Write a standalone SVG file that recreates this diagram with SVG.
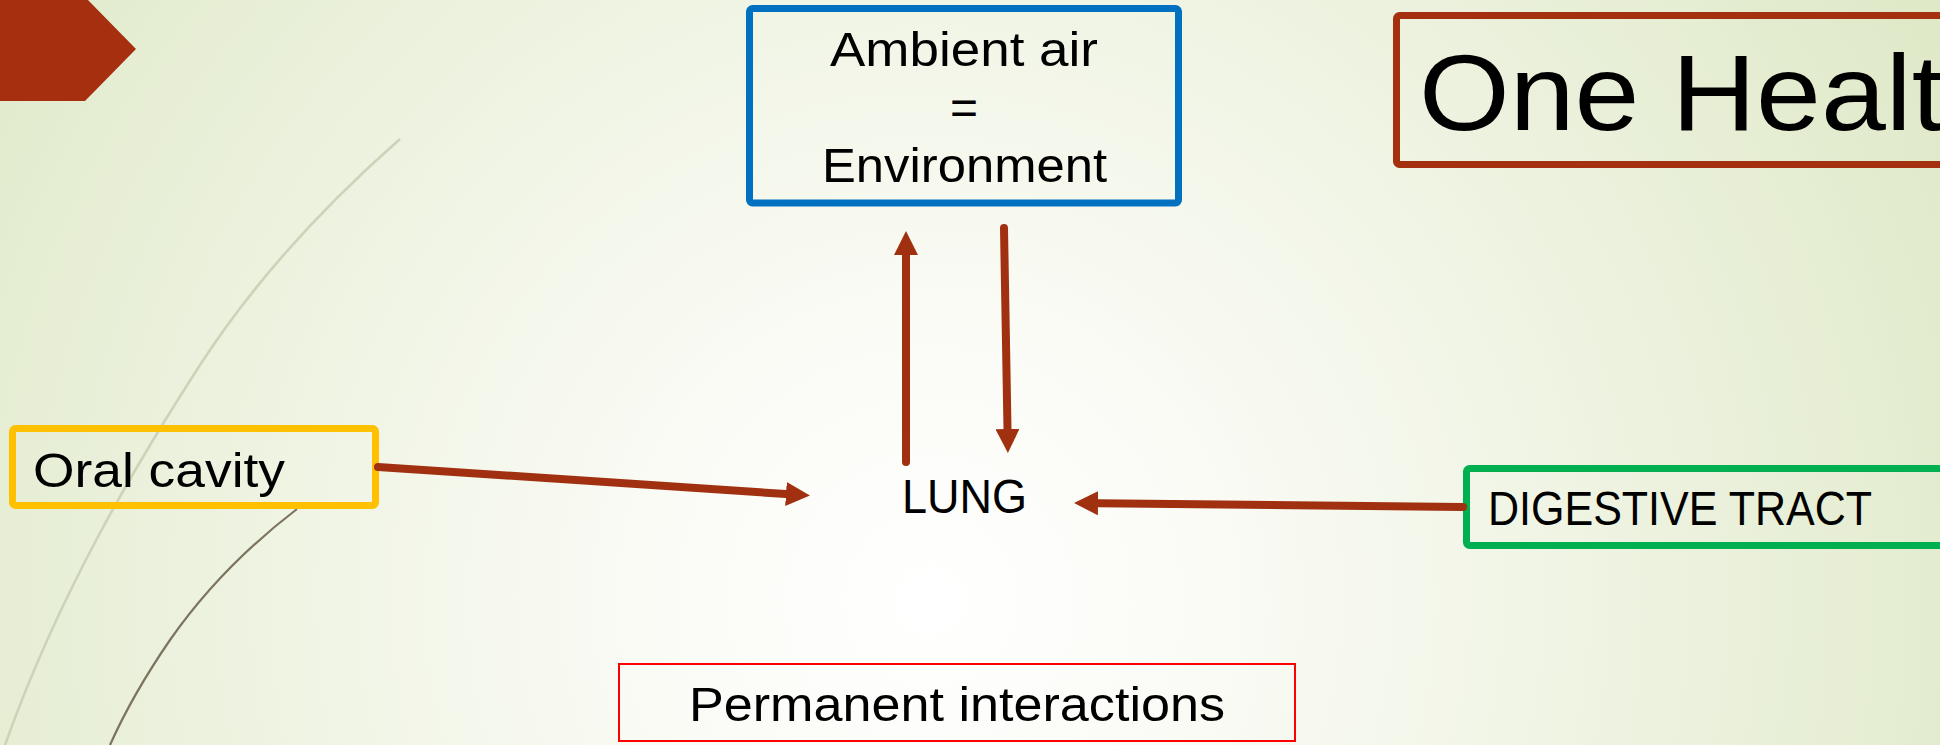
<svg xmlns="http://www.w3.org/2000/svg" width="1940" height="745" viewBox="0 0 1940 745">
<defs>
<radialGradient id="bg" cx="930" cy="600" r="1150" gradientUnits="userSpaceOnUse">
<stop offset="0" stop-color="#FFFFFF"/>
<stop offset="0.25" stop-color="#FAFBF5"/>
<stop offset="0.6" stop-color="#EEF3E1"/>
<stop offset="1" stop-color="#DFE9C8"/>
</radialGradient>
<marker id="ah" markerUnits="userSpaceOnUse" markerWidth="24" markerHeight="24" refX="0" refY="12" orient="auto" viewBox="0 0 24 24">
<path d="M0,0 L24,12 L0,24 Z" fill="#A0300F"/>
</marker>
<style>
.t{font-family:"Liberation Sans",Arial,sans-serif;font-size:48px;fill:#000;}
.box{fill:none;stroke-width:7;}
.conn{stroke:#A0300F;stroke-width:8;stroke-linecap:round;fill:none;marker-end:url(#ah);}
</style>
</defs>
<rect x="0" y="0" width="1940" height="745" fill="url(#bg)"/>
<g id="decor">
<path d="M400,139 C325,205 255,280 200,365 C140,458 60,590 5,745" fill="none" stroke="#CDD3B8" stroke-width="2.6"/>
<path d="M297,509 C250,545 205,590 170,640 C148,672 127,707 110,745" fill="none" stroke="#7D7460" stroke-width="2.2"/>
<polygon points="0,-3 85,-3 136,49 85,101 0,101" fill="#A52F0F"/>
</g>
<g id="title">
<rect x="1396.5" y="15.5" width="600" height="149" rx="3" class="box" stroke="#A5300F"/>
<text x="1419" y="130" font-family="Liberation Sans,Arial,sans-serif" font-size="108" textLength="590" lengthAdjust="spacingAndGlyphs">One Health</text>
</g>
<g id="ambient">
<rect x="749.5" y="8.5" width="429" height="194.5" rx="3" class="box" stroke="#0070C0"/>
<text class="t" x="830" y="66" textLength="268" lengthAdjust="spacingAndGlyphs">Ambient air</text>
<text class="t" x="964" y="124" text-anchor="middle">=</text>
<text class="t" x="822" y="182" textLength="285" lengthAdjust="spacingAndGlyphs">Environment</text>
</g>
<g id="oral">
<rect x="12.5" y="428.5" width="363" height="77" rx="3" class="box" stroke="#FFC000"/>
<text class="t" x="33" y="487" textLength="252" lengthAdjust="spacingAndGlyphs">Oral cavity</text>
</g>
<g id="lung">
<text class="t" x="902" y="513" textLength="125" lengthAdjust="spacingAndGlyphs">LUNG</text>
</g>
<g id="digestive">
<rect x="1466.5" y="468.5" width="520" height="77" rx="3" class="box" stroke="#00B050"/>
<text class="t" x="1488" y="525" textLength="384" lengthAdjust="spacingAndGlyphs">DIGESTIVE TRACT</text>
</g>
<g id="permanent">
<rect x="619" y="664" width="676" height="77" fill="none" stroke="#FF0000" stroke-width="2"/>
<text class="t" x="689" y="721" textLength="536" lengthAdjust="spacingAndGlyphs">Permanent interactions</text>
</g>
<g id="connectors">
<line class="conn" x1="906" y1="462" x2="906" y2="255"/>
<line class="conn" x1="1004" y1="228" x2="1007.5" y2="429"/>
<line class="conn" x1="378" y1="467" x2="786" y2="494"/>
<line class="conn" x1="1463" y1="507" x2="1098" y2="503.3"/>
</g>
</svg>
